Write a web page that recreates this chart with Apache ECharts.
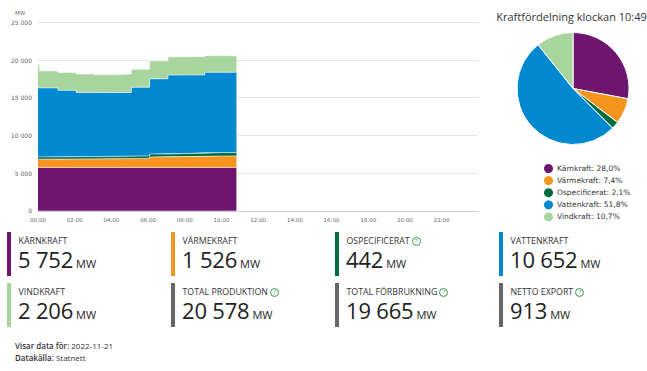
<!DOCTYPE html>
<html>
<head>
<meta charset="utf-8">
<script src="https://cdn.jsdelivr.net/npm/echarts@6/dist/echarts.min.js"></script>
<style>
  html, body { margin:0; padding:0; background:#fff; width:647px; height:371px; overflow:hidden; font-family:"Open Sans", sans-serif; color:#222; }
  #chart { position:absolute; left:0; top:0; width:647px; height:371px; }
  .card { position:absolute; width:150px; height:44px; }
  .bar { position:absolute; left:0; top:0; width:4px; height:44px; }
  .lab { position:absolute; left:11.5px; top:5px; font-size:8.8px; line-height:9px; color:#333; white-space:nowrap; }
  .val { position:absolute; left:11px; top:16px; font-size:22px; line-height:22px; color:#222; white-space:nowrap; letter-spacing:-0.2px; }
  .val .u { font-size:11px; margin-left:3px; letter-spacing:0; }
  .q { display:inline-block; width:7px; height:7px; border:1px solid #3f9a4a; border-radius:50%; color:#3f9a4a; font-size:6px; line-height:7px; text-align:center; vertical-align:1px; margin-left:2px; }
  .foot { position:absolute; left:15px; font-size:8px; line-height:8px; color:#333; white-space:nowrap; }
  .foot b { font-weight:600; }
</style>
</head>
<body>
<div id="chart"></div>
<div id="cards"></div>
<div class="foot" style="top:342px"><b>Visar data för:</b> 2022-11-21</div>
<div class="foot" style="top:353.5px"><b>Datakälla:</b> Statnett</div>
<script>
// ---- data ----
const day = '2022-11-21';
const times = ['00:00','00:05','01:05','02:05','03:05','04:05','05:05','06:05','07:05','08:05','09:05','10:05','10:49'];
const seriesNames = ['Kärnkraft','Värmekraft','Ospecificerat','Vattenkraft','Vindkraft'];
const seriesColors = ['#6e166f','#f7941d','#006b3f','#0088d1','#a8d59e'];
const karnkraft    = [5750,5750,5748,5745,5748,5750,5750,5750,5752,5750,5752,5752,5752];
const varmekraft   = [1100,1100,1120,1130,1150,1170,1200,1400,1450,1470,1526,1526,1526];
const ospecificerat= [300,300,300,320,320,330,330,380,400,420,442,442,442];
const vattenkraft  = [9150,9150,8830,8510,8480,8450,9120,9970,10400,10370,10652,10652,10652];
const vindkraft    = [3040,2240,2360,2440,2350,2440,2360,2360,2430,2430,2206,2206,2206];
const yTicks = [0,5000,10000,15000,20000,25000];
const xTickHours = [0,2,4,6,8,10,12,14,16,18,20,22];
const pieTitle = 'Kraftfördelning klockan 10:49';
const pieValues = [5752,1526,442,10652,2206];
const cardLabels = ['KÄRNKRAFT','VÄRMEKRAFT','OSPECIFICERAT','VATTENKRAFT','VINDKRAFT','TOTAL PRODUKTION','TOTAL FÖRBRUKNING','NETTO EXPORT'];
const cardValues = ['5 752','1 526','442','10 652','2 206','20 578','19 665','913'];
const cardHelp = [false,false,true,false,false,true,true,true];
const cardColors = ['#6e166f','#f7941d','#006b3f','#0088d1','#a8d59e','#666666','#666666','#666666'];

// ---- cards ----
const cardLeft = [7,171,335,499];
const cardTop = [232,283];
let html = '';
cardLabels.forEach((l,i)=>{
  const x = cardLeft[i%4], y = cardTop[Math.floor(i/4)];
  html += `<div class="card" style="left:${x}px;top:${y}px"><div class="bar" style="background:${cardColors[i]}"></div>`+
    `<div class="lab">${l}${cardHelp[i]?'<span class="q">?</span>':''}</div>`+
    `<div class="val">${cardValues[i]}<span class="u">MW</span></div></div>`;
});
document.getElementById('cards').innerHTML = html;

// ---- chart ----
const [Y,M,D] = day.split('-').map(Number);
const toT = t => { const [h,m] = t.split(':').map(Number); return new Date(Y, M-1, D, h, m).getTime(); };
const xs = times.map(toT);
const dayStart = new Date(Y, M-1, D, 0, 0).getTime();
const dayEnd = dayStart + 24*3600*1000;
const lineData = [karnkraft,varmekraft,ospecificerat,vattenkraft,vindkraft];
const total = pieValues.reduce((a,b)=>a+b,0);
const fmtThousand = v => String(v).replace(/\B(?=(\d{3})+(?!\d))/g,' ');
const pad = n => (n<10?'0':'') + n;

const chart = echarts.init(document.getElementById('chart'), null, {renderer:'svg'});
chart.setOption({
  animation:false,
  color: seriesColors,
  title: { text: pieTitle, left: 566.5, top: 6, textAlign:'center',
    textStyle:{ fontFamily:'Open Sans', fontSize:11, fontWeight:'normal', color:'#333' } },
  graphic: [{ type:'text', left:15, top:10, style:{ text:'MW', fontSize:5.5, fill:'#666', fontFamily:'DejaVu Sans' } }],
  grid: { left:38, right:168.7, top:22.3, bottom:160.2 },
  xAxis: { type:'time', min:dayStart, max:dayEnd, splitNumber:12,
    minInterval:3600*1000,
    axisLine:{ lineStyle:{ color:'#d0d0d0' } }, axisTick:{ show:false }, splitLine:{ show:false },
    axisLabel:{ fontFamily:'DejaVu Sans', fontSize:5.5, color:'#666', margin:6, hideOverlap:false,
      showMinLabel:true, showMaxLabel:false,
      formatter: v => {
        if (v >= dayEnd) return '';
        const d = new Date(v);
        return (d.getMinutes() === 0 && xTickHours.indexOf(d.getHours()) >= 0) ? pad(d.getHours()) + ':00' : '';
      } } },
  yAxis: { type:'value', min:yTicks[0], max:yTicks[yTicks.length-1], interval:5000,
    axisLine:{ show:false }, axisTick:{ show:false },
    splitLine:{ lineStyle:{ color:'#e6e6e6' } },
    axisLabel:{ fontFamily:'DejaVu Sans', fontSize:6, color:'#666', margin:6, formatter: v => fmtThousand(v) } },
  legend: { orient:'vertical', left:539, top:159, icon:'circle', itemWidth:9, itemHeight:9, itemGap:3.1,
    data: seriesNames,
    textStyle:{ fontFamily:'DejaVu Sans', fontSize:7.5, color:'#333', padding:[0,0,0,-1] },
    formatter: name => { const i = seriesNames.indexOf(name); return name + ': ' + (pieValues[i]/total*100).toFixed(1).replace('.',',') + '%'; } },
  series: lineData.map((arr,i)=>({
    name: seriesNames[i], type:'line', stack:'p', step:'end', symbol:'none',
    data: arr.map((v,j)=>[xs[j], v]),
    lineStyle:{ width:1, color:'rgba(255,255,255,0.55)' },
    areaStyle:{ color: seriesColors[i], opacity:1 },
    itemStyle:{ color: seriesColors[i] },
    z: 2
  })).concat([{
    type:'pie', name:'pie', center:[573,88.5], radius:56, label:{ show:false }, labelLine:{ show:false },
    startAngle:90, clockwise:true,
    itemStyle:{ borderColor:'#fff', borderWidth:1 },
    emphasis:{ disabled:true },
    data: seriesNames.map((n,i)=>({ name:n, value:pieValues[i], itemStyle:{ color:seriesColors[i] } }))
  }])
});
</script>
</body>
</html>
